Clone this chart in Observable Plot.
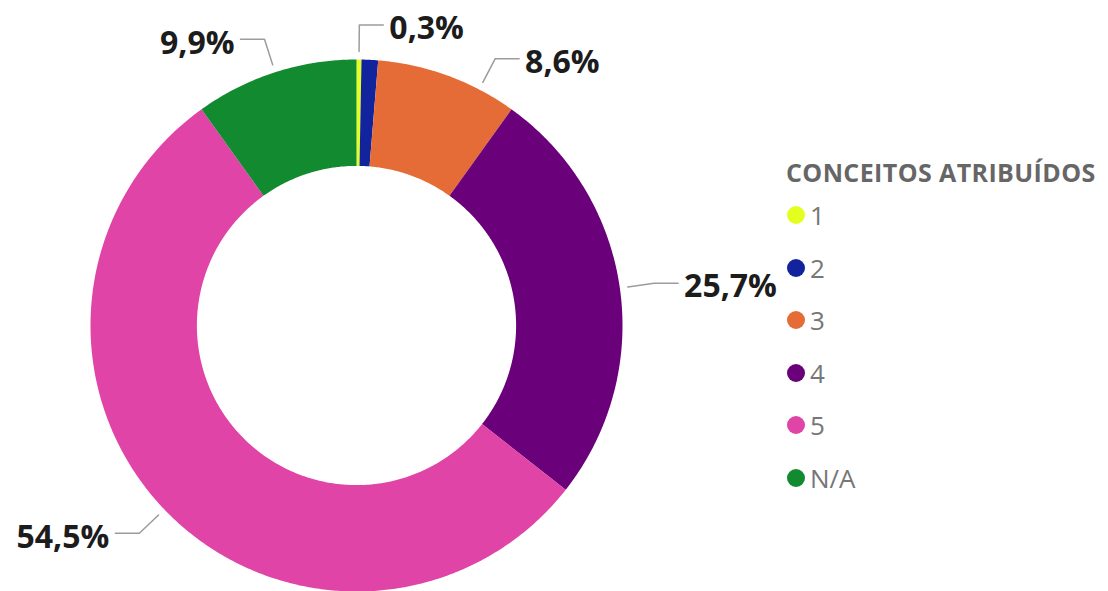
<!DOCTYPE html>
<html>
<head>
<meta charset="utf-8">
<script src="https://cdn.jsdelivr.net/npm/d3@7"></script>
<script src="https://cdn.jsdelivr.net/npm/@observablehq/plot@0.6"></script>
<style>
html, body { margin: 0; padding: 0; background: #fff; overflow: hidden; }
#wrap { display: flex; width: 1108px; height: 591px; overflow: hidden; }
#chart svg { overflow: hidden; display: block; }
#legend { padding-top: 155px; padding-left: 6px; font-family: "Open Sans", sans-serif; }
#legend .lt { font-size: 25px; font-weight: 700; color: #666; letter-spacing: 0.4px; line-height: 34px; white-space: nowrap; }
#legend .it { display: flex; align-items: center; height: 52.5px; font-size: 26px; color: #777; padding-left: 1px; }
#legend .sw { width: 18px; height: 18px; border-radius: 50%; margin-right: 5px; flex: none; }
</style>
</head>
<body>
<div id="wrap"><div id="chart"></div><div id="legend"></div></div>
<script>
// ---- data ----
const categories = ["1", "2", "3", "4", "5", "N/A"];
const shares = [0.3, 1.0, 8.6, 25.7, 54.5, 9.9];
const labelShown = [true, false, true, true, true, true];
const colors = ["#e2ff1f", "#12239e", "#e66c37", "#6b007b", "#e044a7", "#118a30"];
const legendTitle = "CONCEITOS ATRIBUÍDOS";

// ---- layout ----
const W = 780, H = 591;
const cx = 356, cy = 325, r = 266, innerRatio = 0.6;
const labelNudge = [0, 0, 7.3, 0, 0, 0]; // degrees, to keep labels clear of each other
const fmt = v => v.toFixed(1).replace(".", ",") + "%";

const total = d3.sum(shares);
const slicePts = [];
const leaderPts = [];
const labelData = [];
let cum = 0;
categories.forEach((cat, i) => {
  const a0 = 2 * Math.PI * cum / total;
  cum += shares[i];
  const a1 = 2 * Math.PI * cum / total;
  const n = Math.max(2, Math.ceil((a1 - a0) * 180 / Math.PI * 2));
  for (let k = 0; k <= n; k++) {
    const a = a0 + (a1 - a0) * k / n;
    slicePts.push({cat, x: Math.sin(a), y: Math.cos(a)});
  }
  for (let k = n; k >= 0; k--) {
    const a = a0 + (a1 - a0) * k / n;
    slicePts.push({cat, x: innerRatio * Math.sin(a), y: innerRatio * Math.cos(a)});
  }
  if (labelShown[i]) {
    const am = (a0 + a1) / 2 + labelNudge[i] * Math.PI / 180;
    const side = Math.sin(am) >= 0 ? 1 : -1;
    const ex = 1.13 * Math.sin(am), ey = 1.13 * Math.cos(am);
    const endX = ex + side * 24 / r;
    leaderPts.push({cat, x: 1.03 * Math.sin(am), y: 1.03 * Math.cos(am)});
    leaderPts.push({cat, x: ex, y: ey});
    leaderPts.push({cat, x: endX, y: ey});
    labelData.push({cat, x: endX, y: ey, side, text: fmt(shares[i])});
  }
});

const textStyle = {fontSize: 32, fontWeight: 700, fill: "#1c1c1c", fontFamily: "Open Sans", dy: 4};

const chart = Plot.plot({
  width: W, height: H,
  margin: 0,
  x: {domain: [-cx / r, (W - cx) / r], axis: null},
  y: {domain: [-(H - cy) / r, cy / r], axis: null},
  color: {domain: categories, range: colors},
  style: {background: "white", overflow: "hidden"},
  marks: [
    Plot.line(slicePts, {x: "x", y: "y", z: "cat", fill: "cat", stroke: "none", curve: "linear"}),
    Plot.line(leaderPts, {x: "x", y: "y", z: "cat", stroke: "#9c9c9c", strokeWidth: 1.5, curve: "linear"}),
    Plot.text(labelData.filter(d => d.side > 0), {x: "x", y: "y", text: "text", textAnchor: "start", dx: 6, ...textStyle}),
    Plot.text(labelData.filter(d => d.side < 0), {x: "x", y: "y", text: "text", textAnchor: "end", dx: -6, ...textStyle})
  ]
});
document.getElementById("chart").appendChild(chart);

// ---- legend ----
const lg = document.getElementById("legend");
const t = document.createElement("div");
t.className = "lt";
t.textContent = legendTitle;
lg.appendChild(t);
categories.forEach((c, i) => {
  const it = document.createElement("div");
  it.className = "it";
  const sw = document.createElement("span");
  sw.className = "sw";
  sw.style.background = colors[i];
  const tx = document.createElement("span");
  tx.textContent = c;
  it.appendChild(sw);
  it.appendChild(tx);
  lg.appendChild(it);
});
</script>
</body>
</html>
